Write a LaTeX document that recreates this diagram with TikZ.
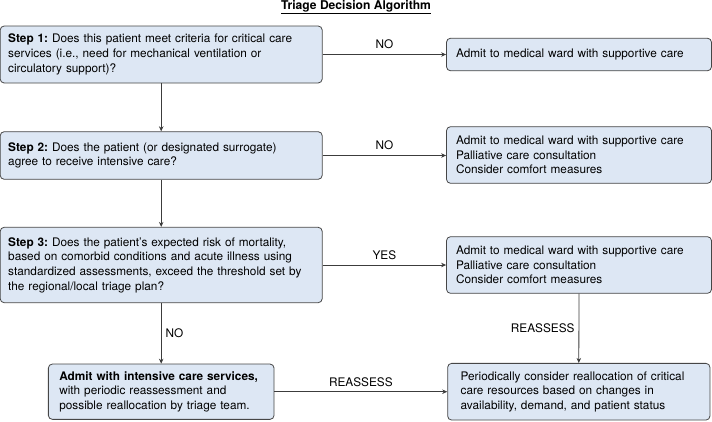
\documentclass[tikz,border=0pt]{standalone}
\usepackage{fontspec}
\setmainfont{TeX Gyre Heros}
\usetikzlibrary{arrows.meta}
\definecolor{boxfill}{RGB}{221,231,244}
\definecolor{boxline}{RGB}{70,70,70}
\definecolor{arrowc}{RGB}{60,60,60}
\begin{document}
\frenchspacing
\begin{tikzpicture}[x=1pt,y=-1pt,
  font=\fontsize{11.8}{14.7}\selectfont,
  box/.style={draw=boxline, fill=boxfill, line width=0.8pt, rounded corners=4pt,
    align=left, inner ysep=0pt, anchor=center,
    execute at begin node={\hyphenpenalty=10000\relax\frenchspacing}},
  conn/.style={draw=arrowc, line width=0.8pt, -{Stealth[length=5pt,width=4.5pt]}},
  lab/.style={font=\fontsize{11.8}{14.7}\selectfont, text=black, inner sep=1pt}]
\useasboundingbox (0,0) rectangle (712,421);
\node[font=\bfseries\fontsize{12.1}{14.7}\selectfont] (title) at (356,7) {\underline{Triage Decision Algorithm}};
\node[box, text width=306pt, inner xsep=8pt, minimum height=57pt] (b1) at (161.2,54.5)
  {\textbf{Step 1:} Does this patient meet criteria for critical care\\services (i.e., need for mechanical ventilation or\\circulatory support)?};
\node[box, text width=246pt, inner xsep=9.5pt, minimum height=32.5pt] (r1) at (579,54.5)
  {Admit to medical ward with supportive care};
\node[box, text width=306pt, inner xsep=8pt, minimum height=47.6pt] (b2) at (161.2,155.5)
  {\textbf{Step 2:} Does the patient (or designated surrogate)\\agree to receive intensive care?};
\node[box, text width=246pt, inner xsep=9.5pt, minimum height=56.6pt] (r2) at (579,155)
  {Admit to medical ward with supportive care\\Palliative care consultation\\Consider comfort measures};
\node[box, text width=306pt, inner xsep=8pt, minimum height=75.4pt] (b3) at (161.2,265)
  {\textbf{Step 3:} Does the patient's expected risk of mortality,\\based on comorbid conditions and acute illness using\\standardized assessments, exceed the threshold set by\\the regional/local triage plan?};
\node[box, text width=246pt, inner xsep=9.5pt, minimum height=56.6pt] (r3) at (579,265)
  {Admit to medical ward with supportive care\\Palliative care consultation\\Consider comfort measures};
\node[box, text width=203.7pt, inner xsep=11pt, minimum height=55.3pt] (b4) at (161.2,391.7)
  {\textbf{Admit with intensive care services,}\\with periodic reassessment and\\possible reallocation by triage team.};
\node[box, text width=236.3pt, inner xsep=13pt, minimum height=56.7pt] (r4) at (578.8,391.7)
  {Periodically consider reallocation of critical\\care resources based on changes in\\availability, demand, and patient status};
\draw[conn] (b1.east) -- node[lab, above=4pt] (l1) {NO} (r1.west);
\draw[conn] (b1.south) -- (b2.north);
\draw[conn] (b2.east) -- node[lab, above=4pt] (l2) {NO} (b2.east -| r2.west);
\draw[conn] (b2.south) -- (b3.north);
\draw[conn] (b3.east) -- node[lab, above=4pt] (l3) {YES} (r3.west);
\draw[conn] (b3.south) -- node[lab, right=3pt] (l4) {NO} (b4.north);
\draw[conn] (r3.south) -- node[lab, left=3pt] (l5) {REASSESS} (r4.north);
\draw[conn] (b4.east) -- node[lab, above=4pt] (l6) {REASSESS} (r4.west);
\end{tikzpicture}
\end{document}
